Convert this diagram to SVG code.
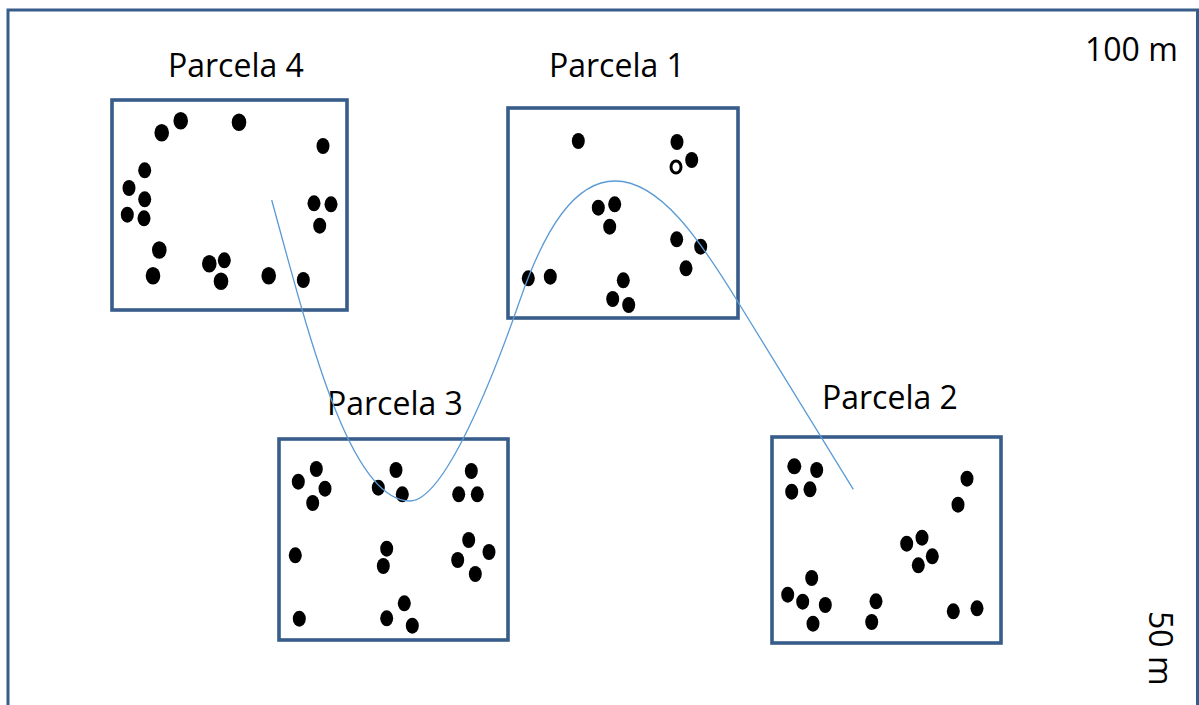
<svg xmlns="http://www.w3.org/2000/svg" width="1199" height="705" viewBox="0 0 1199 705">
<style>
.frame{fill:none;stroke:#385D8A;stroke-width:3}
.box{fill:none;stroke:#385D8A;stroke-width:3.6}
.d{fill:#000}
.o{fill:#fff;stroke:#000;stroke-width:3}
.lbl{font-family:"Open Sans","Liberation Sans",sans-serif;font-size:32px;fill:#000}
.curve{fill:none;stroke:#5B9BD5;stroke-width:1.3}
</style>
<rect width="1199" height="705" fill="#fff"/>
<rect class="frame" x="8" y="10" width="1189.5" height="720"/>
<text class="lbl" x="1085" y="61">100 m</text>
<text class="lbl" transform="translate(1149,611) rotate(90)">50 m</text>

<g id="parcela4">
<rect class="box" x="112" y="100" width="235" height="210"/>
<text class="lbl" x="168" y="77">Parcela 4</text>
<ellipse class="d" cx="161.7" cy="132.7" rx="7.3" ry="8.8"/>
<ellipse class="d" cx="180.7" cy="120.7" rx="7.3" ry="8.8"/>
<ellipse class="d" cx="239" cy="122.3" rx="7.3" ry="8.8"/>
<ellipse class="d" cx="323" cy="146" rx="6.5" ry="8"/>
<ellipse class="d" cx="144.7" cy="170.3" rx="6.5" ry="8"/>
<ellipse class="d" cx="129" cy="188" rx="6.5" ry="8"/>
<ellipse class="d" cx="144.7" cy="199.3" rx="6.5" ry="8"/>
<ellipse class="d" cx="127.3" cy="214.7" rx="6.5" ry="8"/>
<ellipse class="d" cx="144" cy="218.3" rx="6.5" ry="8"/>
<ellipse class="d" cx="159.3" cy="250" rx="7.3" ry="8.8"/>
<ellipse class="d" cx="153" cy="275.7" rx="7.3" ry="8.8"/>
<ellipse class="d" cx="209.3" cy="263.7" rx="7.3" ry="8.8"/>
<ellipse class="d" cx="224.3" cy="260.3" rx="6.5" ry="8"/>
<ellipse class="d" cx="221" cy="281.3" rx="7.3" ry="8.8"/>
<ellipse class="d" cx="268.7" cy="275.7" rx="7.3" ry="8.8"/>
<ellipse class="d" cx="303.3" cy="280" rx="6.5" ry="8"/>
<ellipse class="d" cx="314" cy="203.3" rx="6.5" ry="8"/>
<ellipse class="d" cx="331" cy="204.3" rx="6.5" ry="8"/>
<ellipse class="d" cx="319.7" cy="225.7" rx="6.5" ry="8"/>
</g>

<g id="parcela1">
<rect class="box" x="508" y="108" width="230" height="210"/>
<text class="lbl" x="549" y="77">Parcela 1</text>
<ellipse class="d" cx="578.3" cy="141" rx="6.5" ry="8"/>
<ellipse class="d" cx="677" cy="142" rx="6.5" ry="8"/>
<ellipse class="d" cx="691.7" cy="160" rx="6.5" ry="8"/>
<ellipse class="o" cx="676" cy="167" rx="5" ry="6"/>
<ellipse class="d" cx="598.3" cy="207.7" rx="6.5" ry="8"/>
<ellipse class="d" cx="614.7" cy="204.3" rx="6.5" ry="8"/>
<ellipse class="d" cx="609.7" cy="226.7" rx="6.5" ry="8"/>
<ellipse class="d" cx="676.7" cy="239.3" rx="6.5" ry="8"/>
<ellipse class="d" cx="700.7" cy="246.7" rx="6.5" ry="8"/>
<ellipse class="d" cx="686" cy="268.3" rx="6.5" ry="8"/>
<ellipse class="d" cx="528.3" cy="278.3" rx="6.5" ry="8"/>
<ellipse class="d" cx="550.3" cy="276.7" rx="6.5" ry="8"/>
<ellipse class="d" cx="623.3" cy="280.3" rx="6.5" ry="8"/>
<ellipse class="d" cx="612.7" cy="299" rx="6.5" ry="8"/>
<ellipse class="d" cx="628.7" cy="305" rx="6.5" ry="8"/>
</g>

<g id="parcela3">
<rect class="box" x="279" y="439" width="229" height="201"/>
<text class="lbl" x="327" y="415">Parcela 3</text>
<ellipse class="d" cx="298.3" cy="481.7" rx="6.5" ry="8"/>
<ellipse class="d" cx="316.3" cy="469" rx="6.5" ry="8"/>
<ellipse class="d" cx="325" cy="488.7" rx="6.5" ry="8"/>
<ellipse class="d" cx="312.7" cy="503" rx="6.5" ry="8"/>
<ellipse class="d" cx="378.3" cy="487.7" rx="6.5" ry="8"/>
<ellipse class="d" cx="396" cy="470" rx="6.5" ry="8"/>
<ellipse class="d" cx="402.3" cy="494.3" rx="6.5" ry="8"/>
<ellipse class="d" cx="471.3" cy="471" rx="6.5" ry="8"/>
<ellipse class="d" cx="458.7" cy="494.3" rx="6.5" ry="8"/>
<ellipse class="d" cx="477.3" cy="494.3" rx="6.5" ry="8"/>
<ellipse class="d" cx="295.3" cy="555.3" rx="6.5" ry="8"/>
<ellipse class="d" cx="386.7" cy="548.7" rx="6.5" ry="8"/>
<ellipse class="d" cx="383.3" cy="566" rx="6.5" ry="8"/>
<ellipse class="d" cx="468.7" cy="540" rx="6.5" ry="8"/>
<ellipse class="d" cx="489" cy="552" rx="6.5" ry="8"/>
<ellipse class="d" cx="457.7" cy="560" rx="6.5" ry="8"/>
<ellipse class="d" cx="475.3" cy="574" rx="6.5" ry="8"/>
<ellipse class="d" cx="299.3" cy="618.7" rx="6.5" ry="8"/>
<ellipse class="d" cx="404.3" cy="603.3" rx="6.5" ry="8"/>
<ellipse class="d" cx="386.7" cy="618.3" rx="6.5" ry="8"/>
<ellipse class="d" cx="412.3" cy="625.7" rx="6.5" ry="8"/>
</g>

<g id="parcela2">
<rect class="box" x="772" y="437" width="229" height="206"/>
<text class="lbl" x="822" y="409">Parcela 2</text>
<ellipse class="d" cx="794.3" cy="466.3" rx="7" ry="8"/>
<ellipse class="d" cx="816.7" cy="470" rx="6.5" ry="8"/>
<ellipse class="d" cx="791.7" cy="491.7" rx="6.5" ry="8"/>
<ellipse class="d" cx="810" cy="489.3" rx="6.5" ry="8"/>
<ellipse class="d" cx="967" cy="478.7" rx="6.5" ry="8"/>
<ellipse class="d" cx="958" cy="504.7" rx="6.5" ry="8"/>
<ellipse class="d" cx="906.7" cy="543.7" rx="6.5" ry="8"/>
<ellipse class="d" cx="922" cy="537.7" rx="6.5" ry="8"/>
<ellipse class="d" cx="932.3" cy="556.3" rx="6.5" ry="8"/>
<ellipse class="d" cx="918.3" cy="565.3" rx="6.5" ry="8"/>
<ellipse class="d" cx="811.7" cy="578" rx="6.5" ry="8"/>
<ellipse class="d" cx="787.7" cy="594.7" rx="6.5" ry="8"/>
<ellipse class="d" cx="802.7" cy="601.7" rx="6.5" ry="8"/>
<ellipse class="d" cx="825.3" cy="605" rx="6.5" ry="8"/>
<ellipse class="d" cx="813" cy="623.7" rx="6.5" ry="8"/>
<ellipse class="d" cx="876" cy="601.3" rx="6.5" ry="8"/>
<ellipse class="d" cx="871.7" cy="622" rx="6.5" ry="8"/>
<ellipse class="d" cx="953.3" cy="611.3" rx="6.5" ry="8"/>
<ellipse class="d" cx="977" cy="608.3" rx="6.5" ry="8"/>
</g>

<g id="connectors">
<path class="curve" d="M271.7,200 C310,340 350,501 410,501 C445,501 495,372 520,300 C545,228 575,181 615,181 C660,181 700,240 738,302 L853.3,489.3"/>
</g>
</svg>
